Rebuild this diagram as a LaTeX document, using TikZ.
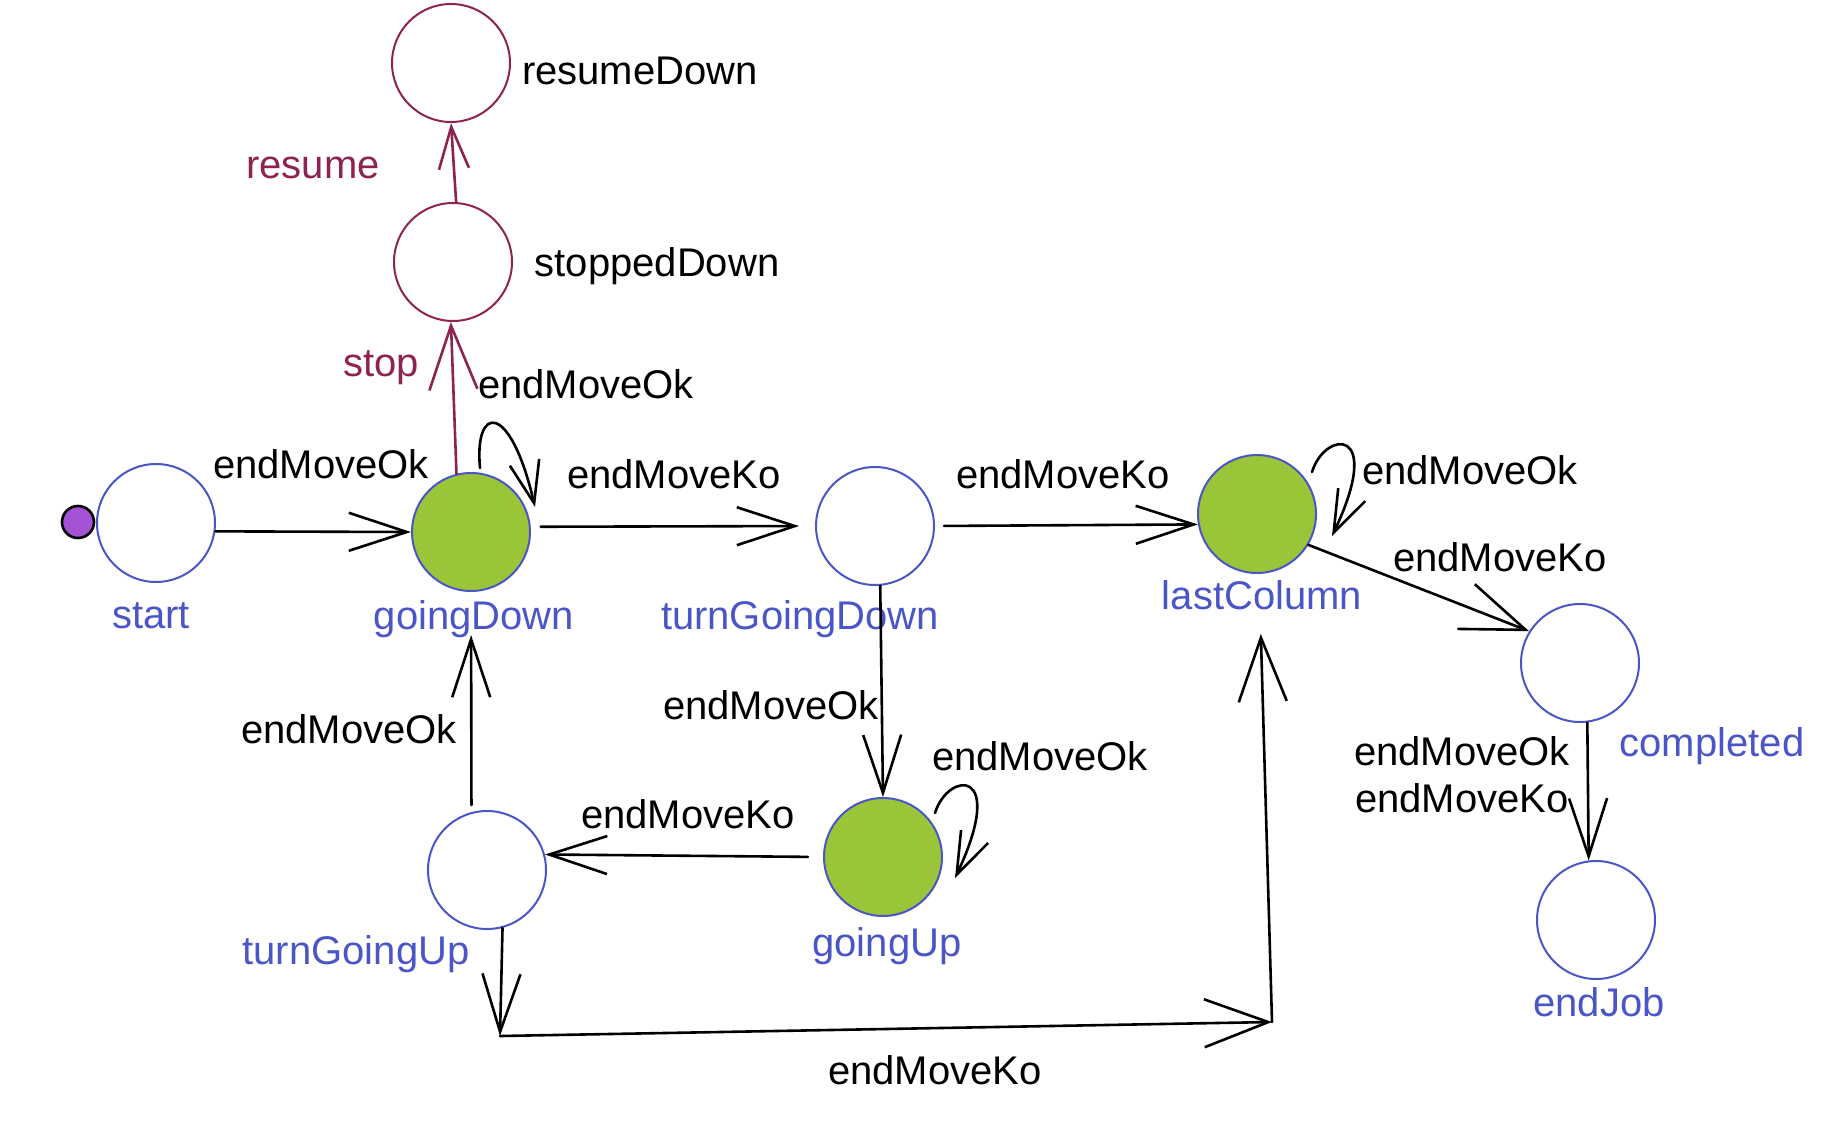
\documentclass[tikz,border=0pt]{standalone}
\usepackage{fontspec}
\setmainfont{Liberation Sans}
\usetikzlibrary{arrows.meta,calc}
\definecolor{stblue}{RGB}{74,85,200}
\definecolor{stgreen}{RGB}{155,197,56}
\definecolor{stred}{RGB}{142,35,80}
\definecolor{stpurple}{RGB}{164,82,214}
\begin{document}
\begin{tikzpicture}[x=0.5pt,y=-0.5pt,
  state/.style={circle,draw=stblue,line width=1pt,minimum size=59pt,inner sep=0pt},
  active/.style={state,fill=stgreen},
  redstate/.style={circle,draw=stred,line width=1pt,minimum size=59pt,inner sep=0pt},
  initdot/.style={circle,draw=black,fill=stpurple,line width=1.3pt,minimum size=16pt,inner sep=0pt},
  lbl/.style={font=\fontsize{20}{24}\selectfont,inner sep=0pt,text depth=0pt},
  slbl/.style={lbl,text=stblue},
  rlbl/.style={lbl,text=stred},
  tr/.style={line width=1.3pt,line cap=round,-{Straight Barb[length=29pt,width=19pt]}},
  bigtr/.style={line width=1.3pt,line cap=round,-{Straight Barb[length=32pt,width=24pt]}},
  smalltr/.style={line width=1.3pt,line cap=round,-{Straight Barb[length=21pt,width=15pt]}}
]
\useasboundingbox (0,0) rectangle (1837,1145);

% states
\node[initdot] (init) at (78,522) {};
\node[state] (start) at (156,523) {};
\node[active] (gD) at (471,532) {};
\node[state] (tGD) at (875,526) {};
\node[active] (lC) at (1257,514) {};
\node[state] (comp) at (1580,663) {};
\node[state] (eJ) at (1596,920) {};
\node[state] (tGU) at (487,870) {};
\node[active] (gU) at (883,857) {};
\node[redstate] (sD) at (453,262) {};
\node[redstate] (rD) at (451,63) {};

% state labels
\node[lbl] at (640,71) {resumeDown};
\node[lbl] at (657,262) {stoppedDown};
\node[slbl] at (151,616) {start};
\node[slbl] at (474,615) {goingDown};
\node[slbl] at (800,615) {turnGoingDown};
\node[slbl] at (1262,595) {lastColumn};
\node[slbl] at (1712,742) {completed};
\node[slbl] at (356,950) {turnGoingUp};
\node[slbl] at (887,942) {goingUp};
\node[slbl] at (1599,1002) {endJob};

% transitions
\draw[tr] (start.-8) -- (gD.180);
\draw[bigtr,stred] (gD.104) -- (sD.268);
\draw[smalltr,stred] (sD.87) -- (rD.270);
\draw[smalltr] ($(gD)+(9,-64)$) .. controls (474,405) and (510,400) .. ($(gD)+(64,-25)$);
\draw[tr,shorten <=5pt,shorten >=8pt] (gD.5) -- (tGD.180);
\draw[tr,shorten <=4.5pt] (tGD.0) -- (lC.190);
\draw[smalltr] ($(lC)+(55,-42)$) .. controls ($(lC)+(68,-84)$) and ($(lC)+(128,-89)$) .. ($(lC)+(75,22)$);
\draw[bigtr] (lC.-31) -- (comp.148);
\draw[tr] (comp.-83) -- (eJ.97);
\draw[tr] (tGD.-85) -- (gU.90);
\draw[smalltr] ($(gU)+(52,-44)$) .. controls ($(gU)+(65,-86)$) and ($(gU)+(125,-91)$) .. ($(gU)+(72,21)$);
\draw[tr,shorten <=7.5pt] (gU.180) -- (tGU.15);
\draw[tr,shorten <=3.5pt,shorten >=21.5pt] (tGU.105) -- (gD.270);
\coordinate (c1) at (500,1036);
\coordinate (c2) at (1272,1022);
\draw[tr] (tGU.-75) -- (c1);
\draw[bigtr] (c1) -- (c2);
\draw[bigtr,shorten >=30pt] (c2) -- (lC.272);

% transition labels
\node[rlbl] at (313,168) {resume};
\node[rlbl] at (381,364) {stop};
\node[lbl] at (321,464) {endMoveOk};
\node[lbl] at (586,384) {endMoveOk};
\node[lbl] at (674,474) {endMoveKo};
\node[lbl] at (1063,474) {endMoveKo};
\node[lbl] at (1470,470) {endMoveOk};
\node[lbl] at (1500,557) {endMoveKo};
\node[lbl] at (1462,751) {endMoveOk};
\node[lbl] at (1462,798) {endMoveKo};
\node[lbl] at (771,705) {endMoveOk};
\node[lbl] at (1040,756) {endMoveOk};
\node[lbl] at (688,814) {endMoveKo};
\node[lbl] at (349,729) {endMoveOk};
\node[lbl] at (935,1070) {endMoveKo};
\end{tikzpicture}
\end{document}
